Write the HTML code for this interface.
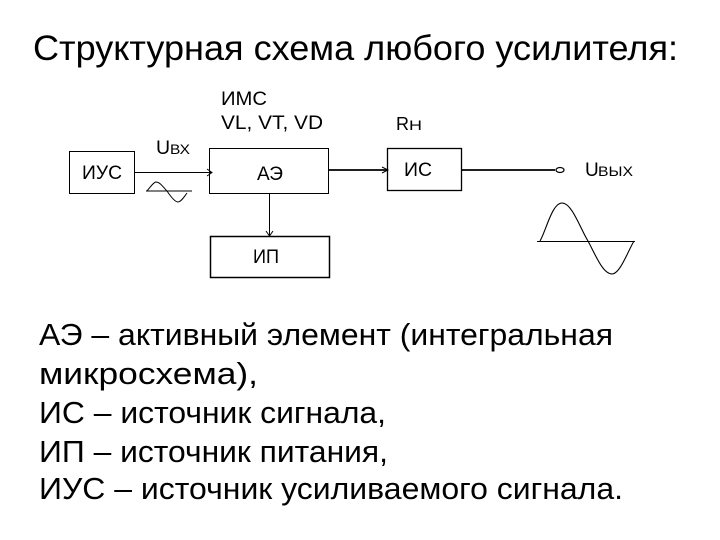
<!DOCTYPE html>
<html lang="ru">
<head>
<meta charset="utf-8">
<style>
html,body{margin:0;padding:0;background:#fff}
svg{display:block}
text{font-family:"Liberation Sans",sans-serif;fill:#000}
</style>
</head>
<body>
<svg xmlns="http://www.w3.org/2000/svg" width="720" height="540" viewBox="0 0 720 540">
<text x="33" y="60" font-size="35.500" textLength="645" lengthAdjust="spacingAndGlyphs">Структурная схема любого усилителя:</text>

<text x="221" y="105" font-size="19" fill="#222" textLength="46" lengthAdjust="spacingAndGlyphs">ИМС</text>
<text x="221" y="129" font-size="19" fill="#222" textLength="102" lengthAdjust="spacingAndGlyphs">VL, VT, VD</text>
<text x="396" y="130" font-size="18" fill="#222">R</text>
<text x="409" y="130" font-size="14" fill="#222" textLength="13" lengthAdjust="spacingAndGlyphs">Н</text>
<text x="156" y="154" font-size="19.500" fill="#222">U</text>
<text x="170" y="154" font-size="13.500" fill="#222" textLength="20" lengthAdjust="spacingAndGlyphs">ВХ</text>

<g fill="#fff" stroke="#000">
<rect x="69.500" y="151.500" width="65" height="42" stroke-width="1"/>
<rect x="209.500" y="148.500" width="119" height="45" stroke-width="1"/>
<rect x="210.500" y="236.500" width="119" height="41" stroke-width="1.500"/>
<rect x="387.500" y="148.500" width="74" height="42" stroke-width="1.300"/>
</g>

<text x="82" y="179" font-size="19" fill="#222" textLength="40" lengthAdjust="spacingAndGlyphs">ИУС</text>
<text x="257" y="180" font-size="19" fill="#222" textLength="26" lengthAdjust="spacingAndGlyphs">АЭ</text>
<text x="253" y="263" font-size="19" fill="#222" textLength="26" lengthAdjust="spacingAndGlyphs">ИП</text>
<text x="404" y="176" font-size="19" fill="#222" textLength="28" lengthAdjust="spacingAndGlyphs">ИС</text>
<text x="585" y="176" font-size="19" fill="#222">U</text>
<text x="598" y="176" font-size="14" fill="#222" textLength="35" lengthAdjust="spacingAndGlyphs">ВЫХ</text>

<g fill="none" stroke="#000">
<path d="M135 172.500H212M207 169L212 172.500L207 176" stroke-width="1"/>
<path d="M269.500 193V236M266 231L269.500 236L273 231" stroke-width="1"/>
<path d="M329 170H388" stroke-width="1.800"/>
<path d="M382 167L388 170L382 173" stroke-width="1"/>
<path d="M462 170H555" stroke-width="1.800"/>
<ellipse cx="560" cy="170" rx="4" ry="2.500" stroke-width="1.200"/>
<path d="M146 191H192" stroke-width="1"/>
<path d="M147 191C151 186 154 182 156 182C160 182 163 187 167 191C171 197 175 202 178 202C181 202 184 197 187 193" stroke-width="1"/>
<path d="M537 241.500H635" stroke-width="1"/>
<path d="M540 241C546 231 552 203 562 203C572 203 580 228 588 241C596 256 603 274 612 274C620 274 628 251 634 241" stroke-width="1.100"/>
</g>

<g font-size="31">
<text x="39" y="345" textLength="574" lengthAdjust="spacingAndGlyphs">АЭ – активный элемент (интегральная</text>
<text x="39" y="384" textLength="219" lengthAdjust="spacingAndGlyphs">микросхема),</text>
<text x="39" y="423" textLength="347" lengthAdjust="spacingAndGlyphs">ИС – источник сигнала,</text>
<text x="39" y="462" textLength="349" lengthAdjust="spacingAndGlyphs">ИП – источник питания,</text>
<text x="39" y="499" textLength="584" lengthAdjust="spacingAndGlyphs">ИУС – источник усиливаемого сигнала.</text>
</g>
</svg>
</body>
</html>
